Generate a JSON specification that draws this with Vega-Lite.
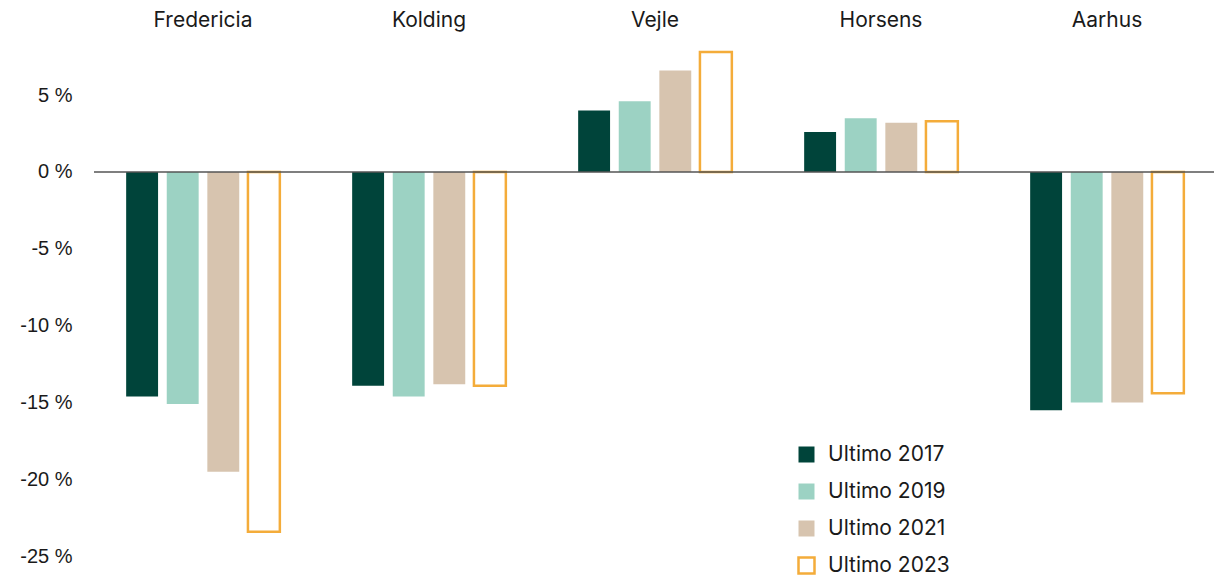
{
  "$schema": "https://vega.github.io/schema/vega-lite/v6.json",
  "autosize": {"type": "none"},
  "padding": {"left": 94, "top": 49, "right": 0, "bottom": 11},
  "width": 1120,
  "height": 515,
  "background": "white",
  "config": {
    "view": {"stroke": null},
    "font": "Inter",
    "axis": {"labelFont": "Inter", "labelColor": "#1a1a1a", "labelFontSize": 20},
    "legend": {"labelFont": "Inter", "labelColor": "#1a1a1a", "labelFontSize": 20}
  },
  "data": {
    "values": [
      {"city": "Fredericia", "year": "Ultimo 2017", "value": -14.6},
      {"city": "Fredericia", "year": "Ultimo 2019", "value": -15.1},
      {"city": "Fredericia", "year": "Ultimo 2021", "value": -19.5},
      {"city": "Fredericia", "year": "Ultimo 2023", "value": -23.4},
      {"city": "Kolding", "year": "Ultimo 2017", "value": -13.9},
      {"city": "Kolding", "year": "Ultimo 2019", "value": -14.6},
      {"city": "Kolding", "year": "Ultimo 2021", "value": -13.8},
      {"city": "Kolding", "year": "Ultimo 2023", "value": -13.9},
      {"city": "Vejle", "year": "Ultimo 2017", "value": 4.0},
      {"city": "Vejle", "year": "Ultimo 2019", "value": 4.6},
      {"city": "Vejle", "year": "Ultimo 2021", "value": 6.6},
      {"city": "Vejle", "year": "Ultimo 2023", "value": 7.8},
      {"city": "Horsens", "year": "Ultimo 2017", "value": 2.6},
      {"city": "Horsens", "year": "Ultimo 2019", "value": 3.5},
      {"city": "Horsens", "year": "Ultimo 2021", "value": 3.2},
      {"city": "Horsens", "year": "Ultimo 2023", "value": 3.3},
      {"city": "Aarhus", "year": "Ultimo 2017", "value": -15.5},
      {"city": "Aarhus", "year": "Ultimo 2019", "value": -15.0},
      {"city": "Aarhus", "year": "Ultimo 2021", "value": -15.0},
      {"city": "Aarhus", "year": "Ultimo 2023", "value": -14.4}
    ]
  },
  "layer": [
    {
      "mark": {"type": "bar", "strokeWidth": 2.5},
      "encoding": {
        "x": {
          "field": "city", "type": "nominal",
          "sort": ["Fredericia", "Kolding", "Vejle", "Horsens", "Aarhus"],
          "scale": {"range": [-4, 1126], "paddingInner": 0.32, "paddingOuter": 0.16},
          "axis": {"orient": "top", "title": null, "ticks": false, "domain": false, "labelPadding": 19, "labelAngle": 0, "labelFontSize": 21}
        },
        "xOffset": {
          "field": "year", "type": "nominal",
          "scale": {"paddingInner": 0.214, "paddingOuter": 0}
        },
        "y": {
          "field": "value", "type": "quantitative",
          "scale": {"domain": [-25.5, 8], "nice": false, "zero": false},
          "axis": {"title": null, "values": [-25, -20, -15, -10, -5, 0, 5], "grid": false, "ticks": false, "domain": false, "labelPadding": 22, "labelFont": "Liberation Sans", "labelFontSize": 20, "labelExpr": "datum.value + ' %'"}
        },
        "fill": {
          "field": "year", "type": "nominal",
          "scale": {"domain": ["Ultimo 2017", "Ultimo 2019", "Ultimo 2021", "Ultimo 2023"], "range": ["#00443A", "#9CD2C3", "#D7C4AF", "#FFFFFF"]},
          "legend": {"title": null, "orient": "none", "legendX": 702, "legendY": 395, "symbolType": "square", "symbolSize": 256, "symbolStrokeWidth": 2.5, "rowPadding": 10, "labelOffset": 11, "labelFontSize": 21}
        },
        "stroke": {
          "field": "year", "type": "nominal",
          "scale": {"domain": ["Ultimo 2017", "Ultimo 2019", "Ultimo 2021", "Ultimo 2023"], "range": ["rgba(0,0,0,0)", "rgba(0,0,0,0)", "rgba(0,0,0,0)", "#F4AC3A"]},
          "legend": {"title": null, "orient": "none", "legendX": 702, "legendY": 395, "symbolType": "square", "symbolSize": 256, "symbolStrokeWidth": 2.5, "rowPadding": 10, "labelOffset": 11, "labelFontSize": 21}
        }
      }
    },
    {
      "data": {"values": [{"zero": 0}]},
      "mark": {"type": "rule", "color": "#555555", "strokeWidth": 1.5, "x": 0, "x2": 1120},
      "encoding": {"y": {"field": "zero", "type": "quantitative"}}
    }
  ]
}
